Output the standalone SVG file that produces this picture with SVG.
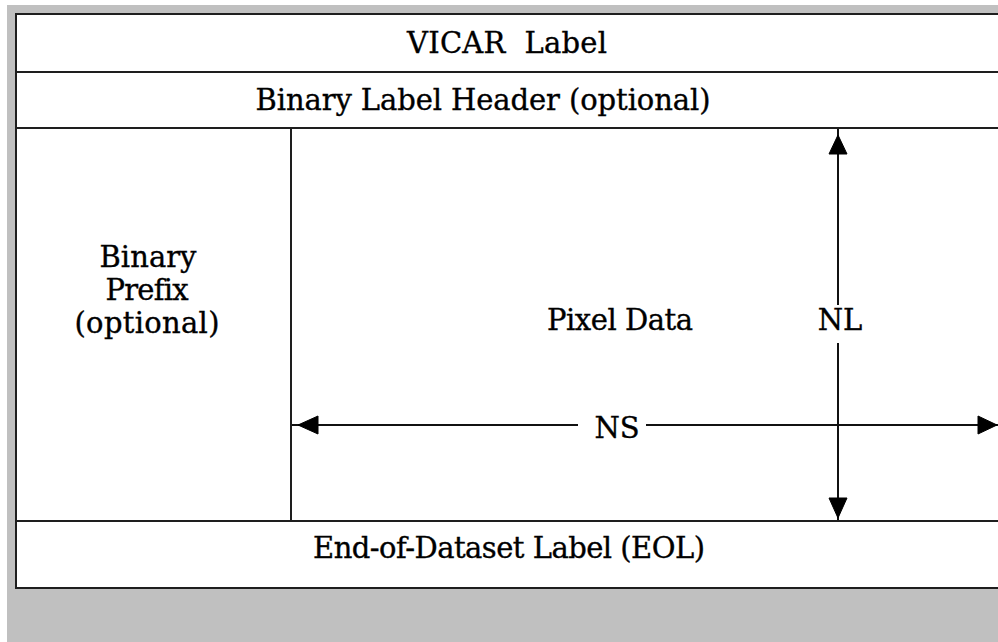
<svg xmlns="http://www.w3.org/2000/svg" width="998" height="642" viewBox="0 0 998 642">
<style>
.bd{fill:#ffffff;stroke:#1e1e1e;stroke-width:2}
.ln{stroke:#111;stroke-width:2;fill:none}
.ah{fill:#000;stroke:#000;stroke-width:1;stroke-linejoin:round}
.t{font-family:"DejaVu Serif","Liberation Serif",serif;font-size:29px;fill:#000;stroke:#000;stroke-width:0.35;text-anchor:middle;font-variant-ligatures:none}
</style>
<rect x="0" y="0" width="998" height="642" fill="#ffffff"/>
<rect x="7" y="5" width="991" height="637" fill="#c0c0c0"/>
<g id="vicar-label">
<rect x="16" y="14" width="990" height="58" class="bd"/>
<text class="t" x="507" y="53" textLength="200" xml:space="preserve">VICAR  Label</text>
</g>
<g id="binary-label-header">
<rect x="16" y="72" width="990" height="56" class="bd"/>
<text class="t" x="483" y="110" textLength="455">Binary Label Header (optional)</text>
</g>
<g id="binary-prefix">
<rect x="16" y="128" width="275" height="393" class="bd"/>
<text class="t" x="148" y="267" textLength="97">Binary</text>
<text class="t" x="147" y="300" textLength="83">Prefix</text>
<text class="t" x="147" y="333" textLength="145">(optional)</text>
</g>
<g id="pixel-data">
<rect x="291" y="128" width="715" height="393" class="bd"/>
<text class="t" x="620" y="330" textLength="146">Pixel Data</text>
</g>
<g id="eol-label">
<rect x="16" y="521" width="990" height="67" class="bd"/>
<text class="t" x="509" y="558" textLength="392">End-of-Dataset Label (EOL)</text>
</g>
<g id="connectors">
<line class="ln" x1="838" y1="129" x2="838" y2="305"/>
<line class="ln" x1="838" y1="343" x2="838" y2="520"/>
<polygon class="ah" points="838,135 847,154 829,154"/>
<polygon class="ah" points="838,518 847,498 829,498"/>
<line class="ln" x1="292" y1="425" x2="578" y2="425"/>
<line class="ln" x1="646" y1="425" x2="998" y2="425"/>
<polygon class="ah" points="298,425 318,416 318,434"/>
<polygon class="ah" points="997,425 978,416 978,434"/>
<text class="t" x="840" y="330">NL</text>
<text class="t" x="617" y="438">NS</text>
</g>
</svg>
